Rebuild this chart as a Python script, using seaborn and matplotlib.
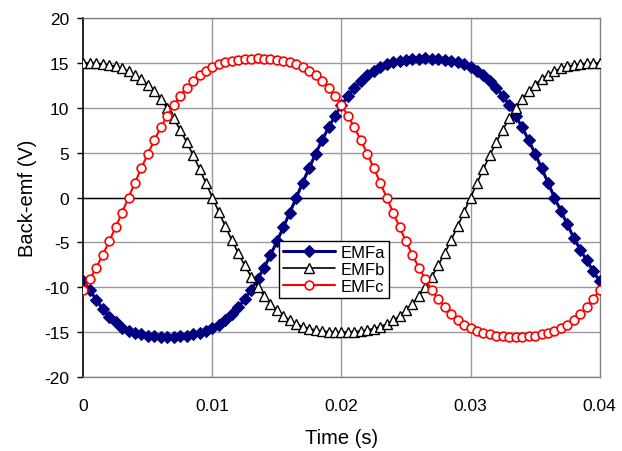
import matplotlib
matplotlib.use("Agg")
import matplotlib.pyplot as plt
import seaborn as sns
import pandas as pd

time_s = [0.0, 0.0005, 0.001, 0.0015, 0.002, 0.0025, 0.003, 0.0035, 0.004, 0.0045,
          0.005, 0.0055, 0.006, 0.0065, 0.007, 0.0075, 0.008, 0.0085, 0.009, 0.0095,
          0.01, 0.0105, 0.011, 0.0115, 0.012, 0.0125, 0.013, 0.0135, 0.014, 0.0145,
          0.015, 0.0155, 0.016, 0.0165, 0.017, 0.0175, 0.018, 0.0185, 0.019, 0.0195,
          0.02, 0.0205, 0.021, 0.0215, 0.022, 0.0225, 0.023, 0.0235, 0.024, 0.0245,
          0.025, 0.0255, 0.026, 0.0265, 0.027, 0.0275, 0.028, 0.0285, 0.029, 0.0295,
          0.03, 0.0305, 0.031, 0.0315, 0.032, 0.0325, 0.033, 0.0335, 0.034, 0.0345,
          0.035, 0.0355, 0.036, 0.0365, 0.037, 0.0375, 0.038, 0.0385, 0.039, 0.0395,
          0.04]

emf_a = [-9.3, -10.3, -11.4, -12.4, -13.3, -13.9, -14.56, -14.87, -15.10, -15.26,
         -15.38, -15.45, -15.49, -15.50, -15.49, -15.45, -15.38, -15.26, -15.10, -14.87,
         -14.56, -14.15, -13.63, -13.00, -12.23, -11.33, -10.29, -9.11, -7.81, -6.40,
         -4.89, -3.30, -1.67, 0.0, 1.67, 3.30, 4.89, 6.40, 7.81, 9.11,
         10.29, 11.33, 12.23, 13.00, 13.63, 14.15, 14.56, 14.87, 15.10, 15.26,
         15.38, 15.45, 15.49, 15.50, 15.49, 15.45, 15.38, 15.26, 15.10, 14.87,
         14.56, 14.15, 13.63, 13.00, 12.23, 11.33, 10.29, 9.11, 7.81, 6.40,
         4.89, 3.30, 1.67, 0.0, -1.5, -3.0, -4.5, -5.8, -7.0, -8.2,
         -9.3]

emf_b = [15.00, 14.99, 14.95, 14.88, 14.77, 14.61, 14.39, 14.09, 13.69, 13.19,
         12.58, 11.83, 10.96, 9.95, 8.82, 7.56, 6.19, 4.73, 3.20, 1.61,
         0.0, -1.61, -3.20, -4.73, -6.19, -7.56, -8.82, -9.95, -10.96, -11.83,
         -12.58, -13.19, -13.69, -14.09, -14.39, -14.61, -14.77, -14.88, -14.95, -14.99,
         -15.00, -14.99, -14.95, -14.88, -14.77, -14.61, -14.39, -14.09, -13.69, -13.19,
         -12.58, -11.83, -10.96, -9.95, -8.82, -7.56, -6.19, -4.73, -3.20, -1.61,
         0.0, 1.61, 3.20, 4.73, 6.19, 7.56, 8.82, 9.95, 10.96, 11.83,
         12.58, 13.19, 13.69, 14.09, 14.39, 14.61, 14.77, 14.88, 14.95, 14.99,
         15.00]

emf_c = [-10.29, -9.11, -7.81, -6.40, -4.89, -3.30, -1.67, 0.0, 1.67, 3.30,
         4.89, 6.40, 7.81, 9.11, 10.29, 11.33, 12.23, 13.00, 13.63, 14.15,
         14.56, 14.87, 15.10, 15.26, 15.38, 15.45, 15.49, 15.50, 15.49, 15.45,
         15.38, 15.26, 15.10, 14.87, 14.56, 14.15, 13.63, 13.00, 12.23, 11.33,
         10.29, 9.11, 7.81, 6.40, 4.89, 3.30, 1.67, 0.0, -1.67, -3.30,
         -4.89, -6.40, -7.81, -9.11, -10.29, -11.33, -12.23, -13.00, -13.63, -14.15,
         -14.56, -14.87, -15.10, -15.26, -15.38, -15.45, -15.49, -15.50, -15.49, -15.45,
         -15.38, -15.26, -15.10, -14.87, -14.56, -14.15, -13.63, -13.00, -12.23, -11.33,
         -10.29]

x_ticks = [0, 0.01, 0.02, 0.03, 0.04]
x_tick_labels = ["0", "0.01", "0.02", "0.03", "0.04"]
y_ticks = [-20, -15, -10, -5, 0, 5, 10, 15, 20]

df = pd.DataFrame({"t": time_s, "EMFa": emf_a, "EMFb": emf_b, "EMFc": emf_c})

sns.set_style("white")
plt.rcParams["font.family"] = ["Liberation Sans", "DejaVu Sans"]
plt.rcParams["axes.unicode_minus"] = False
plt.rcParams["text.color"] = "black"
plt.rcParams["axes.labelcolor"] = "black"
plt.rcParams["xtick.color"] = "black"
plt.rcParams["ytick.color"] = "black"

fig = plt.figure(figsize=(6.22, 4.52), dpi=100)
ax = fig.add_axes([0.134, 0.1637, 0.83, 0.794])

grid_col = "#999999"
for yv in y_ticks:
    ax.axhline(yv, color=grid_col, lw=1.0, zorder=0)
for xv in x_ticks[1:-1]:
    ax.axvline(xv, color=grid_col, lw=1.0, zorder=0)
ax.axhline(0, color="black", lw=1.0, zorder=1)

sns.lineplot(data=df, x="t", y="EMFa", ax=ax, color="#000080", lw=2.2,
             marker="D", markersize=6, markeredgecolor="#000080",
             markerfacecolor="#000080", label="EMFa", zorder=3)
sns.lineplot(data=df, x="t", y="EMFb", ax=ax, color="black", lw=1.2,
             marker="^", markersize=7.5, markeredgecolor="black",
             markerfacecolor="white", markeredgewidth=1.0, label="EMFb", zorder=4)
sns.lineplot(data=df, x="t", y="EMFc", ax=ax, color="#ff0000", lw=1.5,
             marker="o", markersize=6.3, markeredgecolor="#ff0000",
             markerfacecolor="white", markeredgewidth=1.2, label="EMFc", zorder=5)

ax.set_xlim(0, 0.04)
ax.set_ylim(-20, 20)
ax.set_xticks(x_ticks)
ax.set_xticklabels(x_tick_labels)
ax.set_yticks(y_ticks)
ax.tick_params(axis="x", length=0, pad=15, labelsize=12.5, labelcolor="black")
ax.tick_params(axis="y", length=4, width=1, pad=6, labelsize=12.5, direction="out",
               left=True, color="black", labelcolor="black")

for s in ["top", "right", "bottom"]:
    ax.spines[s].set_color("#808080")
    ax.spines[s].set_linewidth(1.0)
ax.spines["left"].set_color("black")
ax.spines["left"].set_linewidth(1.2)

ax.set_xlabel("Time (s)", fontsize=14.5, labelpad=11, color="black")
ax.set_ylabel("Back-emf (V)", fontsize=14.5, labelpad=5, color="black")

leg = ax.legend(loc="upper left", bbox_to_anchor=(0.3785, 0.38), frameon=True,
                fancybox=False, edgecolor="black", fontsize=12, handlelength=3.1,
                borderpad=0.25, labelspacing=0.12, handletextpad=0.35, borderaxespad=0)
leg.get_frame().set_linewidth(1.0)
leg.get_frame().set_facecolor("white")
leg.get_frame().set_alpha(1)
for txt in leg.get_texts():
    txt.set_color("black")

fig.savefig("out.png", dpi=100)
